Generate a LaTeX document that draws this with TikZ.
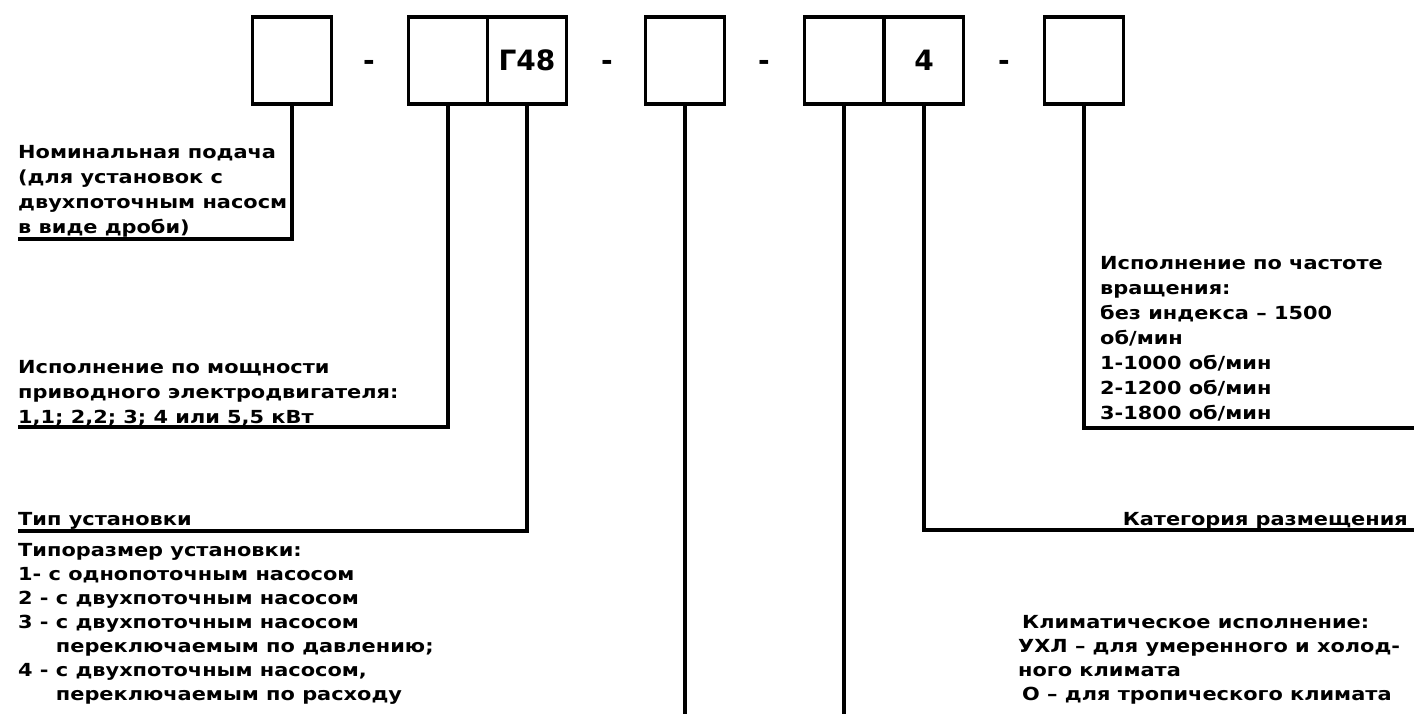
\documentclass[tikz,border=0pt]{standalone}
\usepackage{fontspec}
\setmainfont{DejaVu Sans}
\newfontfamily\widefont{DejaVu Sans}[FakeStretch=1.16]
\usetikzlibrary{positioning}

\begin{document}
\begin{tikzpicture}[x=1pt, y=-1pt,
        cell/.style={draw=black, line width=3.5pt, minimum width=79pt,
          minimum height=87pt, inner sep=0pt, outer sep=0pt,
          font=\fontsize{28}{30}\selectfont\bfseries},
        sep/.style={inner sep=0pt, font=\fontsize{28}{30}\selectfont\bfseries},
        note/.style={align=left, inner sep=0pt, anchor=north west,
          font=\widefont\fontsize{18}{25}\selectfont\bfseries},
        lead/.style={draw=black, line width=3.5pt}]
      \useasboundingbox (0,0) rectangle (1414,714);
      \node[cell] (c1) at (292,60.5) {};
      \node[cell] (c2) at (448,60.5) {};
      \node[cell] (c3) at (527,60.5) {Г48};
      \node[cell] (c4) at (685,60.5) {};
      \node[cell] (c5) at (844,60.5) {};
      \node[cell] (c6) at (924,60.5) {4};
      \node[cell] (c7) at (1084,60.5) {};
      \foreach \x [count=\i] in {369,607,764,1004}
        \node[sep] (d\i) at (\x,65) {-};
      \coordinate (e1) at (18,239);
      \coordinate (e2) at (18,427);
      \coordinate (e3) at (18,531);
      \coordinate (e4) at (685,714);
      \coordinate (e5) at (844,714);
      \coordinate (e6) at (1414,530);
      \coordinate (e7) at (1414,428);
      \foreach \n in {1,...,7}
        \draw[lead] (c\n.south) |- (e\n);
      \node[note] (flow) at (18,140.5) {\strut Номинальная подача\\(для установок с\\двухпоточным насосм\\в виде дроби)};
      \node[note] (power) at (18,355.5) {\strut Исполнение по мощности\\приводного электродвигателя:\\1,1; 2,2; 3; 4 или 5,5 кВт};
      \node[note, anchor=base west] (type) at (18,525) {Тип установки};
      \node[note, font=\widefont\fontsize{18}{24}\selectfont\bfseries] (size) at (18,539.2) {\strut Типоразмер установки:\\1- с однопоточным насосом\\2 - с двухпоточным насосом\\3 - с двухпоточным насосом\\\hphantom{3 - }переключаемым по давлению;\\4 - с двухпоточным насосом,\\\hphantom{4 - }переключаемым по расходу};
      \node[note] (speed) at (1100,251.5) {\strut Исполнение по частоте\\вращения:\\без индекса – 1500\\об/мин\\1-1000 об/мин\\2-1200 об/мин\\3-1800 об/мин};
      \node[note, anchor=base east] (place) at (1408,525) {Категория размещения};
      \node[note, font=\widefont\fontsize{18}{24}\selectfont\bfseries] (climate) at (1018,611.2) {\strut\hspace*{4pt}Климатическое исполнение:\\УХЛ – для умеренного и холод-\\ного климата\\\hspace*{4pt}О – для тропического климата};
\end{tikzpicture}
\end{document}
